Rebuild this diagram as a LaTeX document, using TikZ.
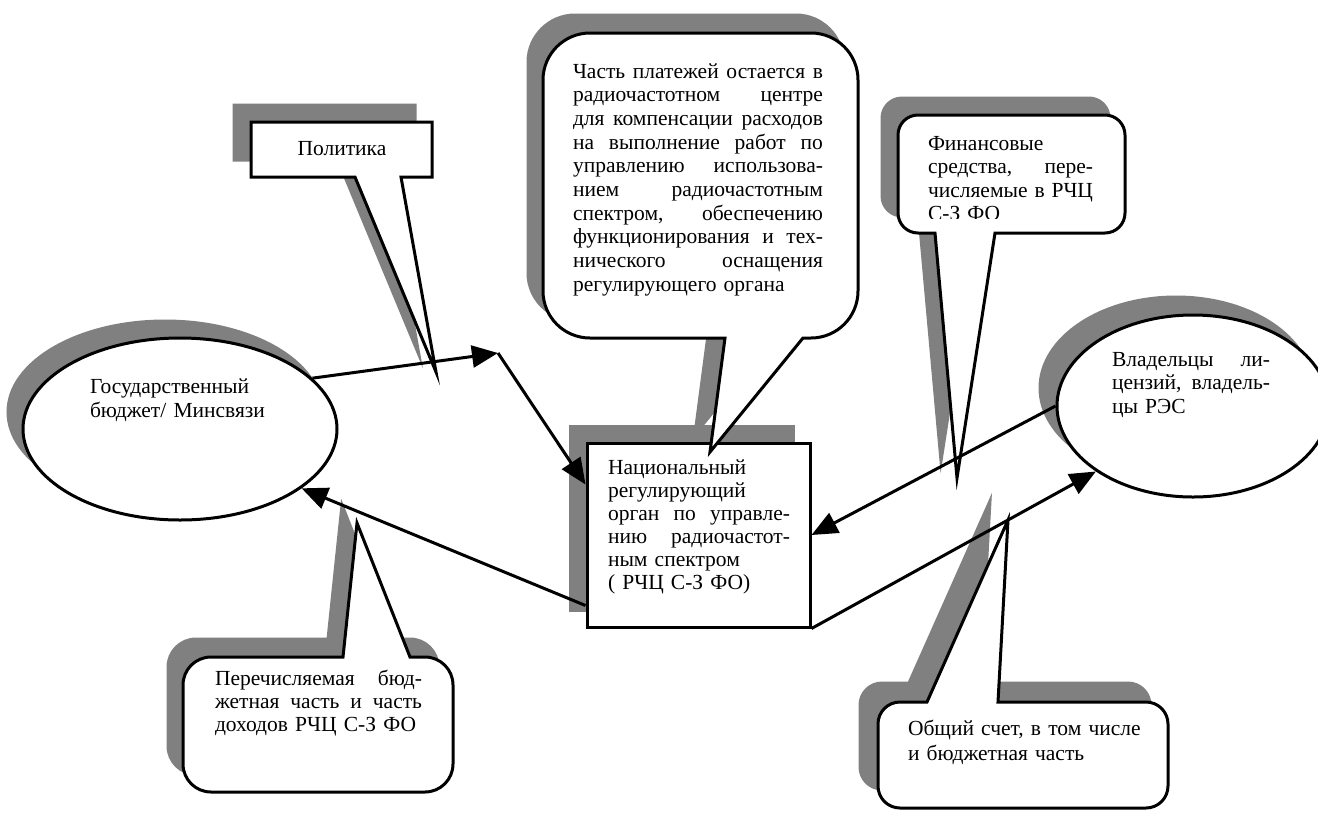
\documentclass[tikz,border=0pt]{standalone}
\usepackage{fontspec}
\setmainfont{Liberation Serif}
\usetikzlibrary{shapes.geometric,arrows.meta,calc}
\definecolor{shd}{RGB}{128,128,128}
\newcommand\jl[2]{{\spaceskip=0.25em plus 3em minus 0.1em\relax\xspaceskip=\spaceskip\makebox[#1][s]{#2}}}
\begin{document}
\begin{tikzpicture}[x=1pt,y=1pt,yscale=-1,line join=miter,
  outl/.style={draw=black,line width=3pt,fill=white},
  shadowfill/.style={fill=shd,draw=shd,line width=3pt},
  txt/.style={inner sep=0pt,outer sep=0pt,align=left,anchor=base west},
  fnt/.style={font=\fontsize{21.5}{23.5}\selectfont},
  conn/.style={line width=3pt,-{Triangle[length=26pt,width=22pt]}}]
\useasboundingbox (0,0) rectangle (1318,812);

% ---------- shadows ----------
\path[shadowfill] (165,412) ellipse [x radius=157, y radius=91];
\path[shadowfill] (1176,388) ellipse [x radius=136, y radius=91];
\path[shadowfill] (570,426) rectangle (793,610);
\begin{scope}[shift={(-15,-18)}]
  \path[shadowfill] (710,452) -- (725,338) -- (590,338) arc(90:180:47) -- (543,80) arc(180:270:47)
    -- (811,33) arc(270:360:47) -- (858,291) arc(0:90:47) -- (803,338) -- cycle;
\end{scope}
\begin{scope}[shift={(-17,-17)}]
  \path[shadowfill] (436,372) -- (355,177) -- (251,177) -- (251,122) -- (432,122) -- (432,177) -- (401,177) -- cycle;
\end{scope}
\begin{scope}[shift={(-16,-17)}]
  \path[shadowfill] (957,478) -- (935,233) -- (918,233) arc(90:180:20) -- (898,135) arc(180:270:20)
    -- (1105,115) arc(270:360:20) -- (1125,213) arc(0:90:20) -- (995,233) -- cycle;
\end{scope}
\begin{scope}[shift={(-15,-18)}]
  \path[shadowfill] (357,523) -- (410,657) -- (425,657) arc(270:360:28) -- (453,764) arc(0:90:28)
    -- (211,792) arc(90:180:28) -- (183,685) arc(180:270:28) -- (343,657) -- cycle;
\end{scope}
\begin{scope}[shift={(-18,-19)}]
  \path[shadowfill] (1008,520) -- (998,702) -- (1146,702) arc(270:360:22) -- (1168,786) arc(0:90:22)
    -- (900,808) arc(90:180:22) -- (878,724) arc(180:270:22) -- (927,702) -- cycle;
\end{scope}

% ---------- main shapes ----------
\node[ellipse,outl,minimum width=314pt,minimum height=182pt,inner sep=0pt] (gov) at (180,429) {};
\node[ellipse,outl,minimum width=272pt,minimum height=182pt,inner sep=0pt] (res) at (1193,406) {};
\node[rectangle,outl,minimum width=223pt,minimum height=184pt,inner sep=0pt] (box) at (698.5,535) {};

% top callout
\path[outl] (710,452) -- (725,338) -- (590,338) arc(90:180:47) -- (543,80) arc(180:270:47)
    -- (811,33) arc(270:360:47) -- (858,291) arc(0:90:47) -- (803,338) -- cycle;
% politika callout
\path[outl] (436,372) -- (355,177) -- (251,177) -- (251,122) -- (432,122) -- (432,177) -- (401,177) -- cycle;
% finance callout
\path[outl] (957,478) -- (935,233) -- (918,233) arc(90:180:20) -- (898,135) arc(180:270:20)
    -- (1105,115) arc(270:360:20) -- (1125,213) arc(0:90:20) -- (995,233) -- cycle;
% bottom-left callout
\path[outl] (357,523) -- (410,657) -- (425,657) arc(270:360:28) -- (453,764) arc(0:90:28)
    -- (211,792) arc(90:180:28) -- (183,685) arc(180:270:28) -- (343,657) -- cycle;
% bottom-right callout
\path[outl] (1008,520) -- (998,702) -- (1146,702) arc(270:360:22) -- (1168,786) arc(0:90:22)
    -- (900,808) arc(90:180:22) -- (878,724) arc(180:270:22) -- (927,702) -- cycle;

% ---------- texts ----------
\node[txt,text width=250pt,font=\fontsize{21.5}{23.7}\selectfont] (tctext) at (573,78)
  {\jl{250pt}{Часть платежей остается в}\\
   \jl{250pt}{радиочастотном центре}\\
   \jl{250pt}{для компенсации расходов}\\
   \jl{250pt}{на выполнение работ по}\\
   \jl{250pt}{управлению использова-}\\
   \jl{250pt}{нием радиочастотным}\\
   \jl{250pt}{спектром, обеспечению}\\
   \jl{250pt}{функционирования и тех-}\\
   \jl{250pt}{нического оснащения}\\
   регулирующего органа};
\node[fnt,inner sep=0pt,anchor=base] (poltext) at (342,155) {Политика};
\begin{scope}
  \clip (898,120) rectangle (1125,218);
  \node[txt,fnt,text width=165pt] (fctext) at (928,150)
    {Финансовые\\
     \jl{165pt}{средства, пере-}\\
     \jl{165pt}{числяемые в РЧЦ}\\
     С-З ФО};
\end{scope}
\node[txt,text width=200pt,font=\fontsize{21.5}{24}\selectfont] (govtext) at (90,393)
  {Государственный\\ бюджет/ Минсвязи};
\node[txt,text width=158pt,fnt] (restext) at (1112,366)
  {\jl{158pt}{Владельцы ли-}\\
   \jl{158pt}{цензий, владель-}\\
   цы РЭС};
\node[txt,text width=182pt,font=\fontsize{21.5}{23}\selectfont] (boxtext) at (608,474)
  {Национальный\\
   регулирующий\\
   \jl{182pt}{орган по управле-}\\
   \jl{182pt}{нию радиочастот-}\\
   ным спектром\\
   ( РЧЦ С-З ФО)};
\node[txt,text width=207pt,font=\fontsize{21.5}{23}\selectfont] (bltext) at (215,685)
  {\jl{207pt}{Перечисляемая бюд-}\\
   \jl{207pt}{жетная часть и часть}\\
   доходов РЧЦ С-З ФО};
\node[txt,text width=250pt,font=\fontsize{21.5}{25}\selectfont] (brtext) at (908,735)
  {Общий счет, в том числе\\ и бюджетная часть};

% ---------- connectors ----------
\coordinate (c1) at (498,353);
\draw[conn] (gov.21) -- (c1);
\draw[conn] (c1) -- ($(box.north west)+(0,43)$);
\draw[conn] ($(box.south west)+(0,-23)$) -- (gov.334);
\draw[conn] (box.south east) -- (res.214);
\draw[conn] (res.west) -- (box.east);
\end{tikzpicture}
\end{document}
